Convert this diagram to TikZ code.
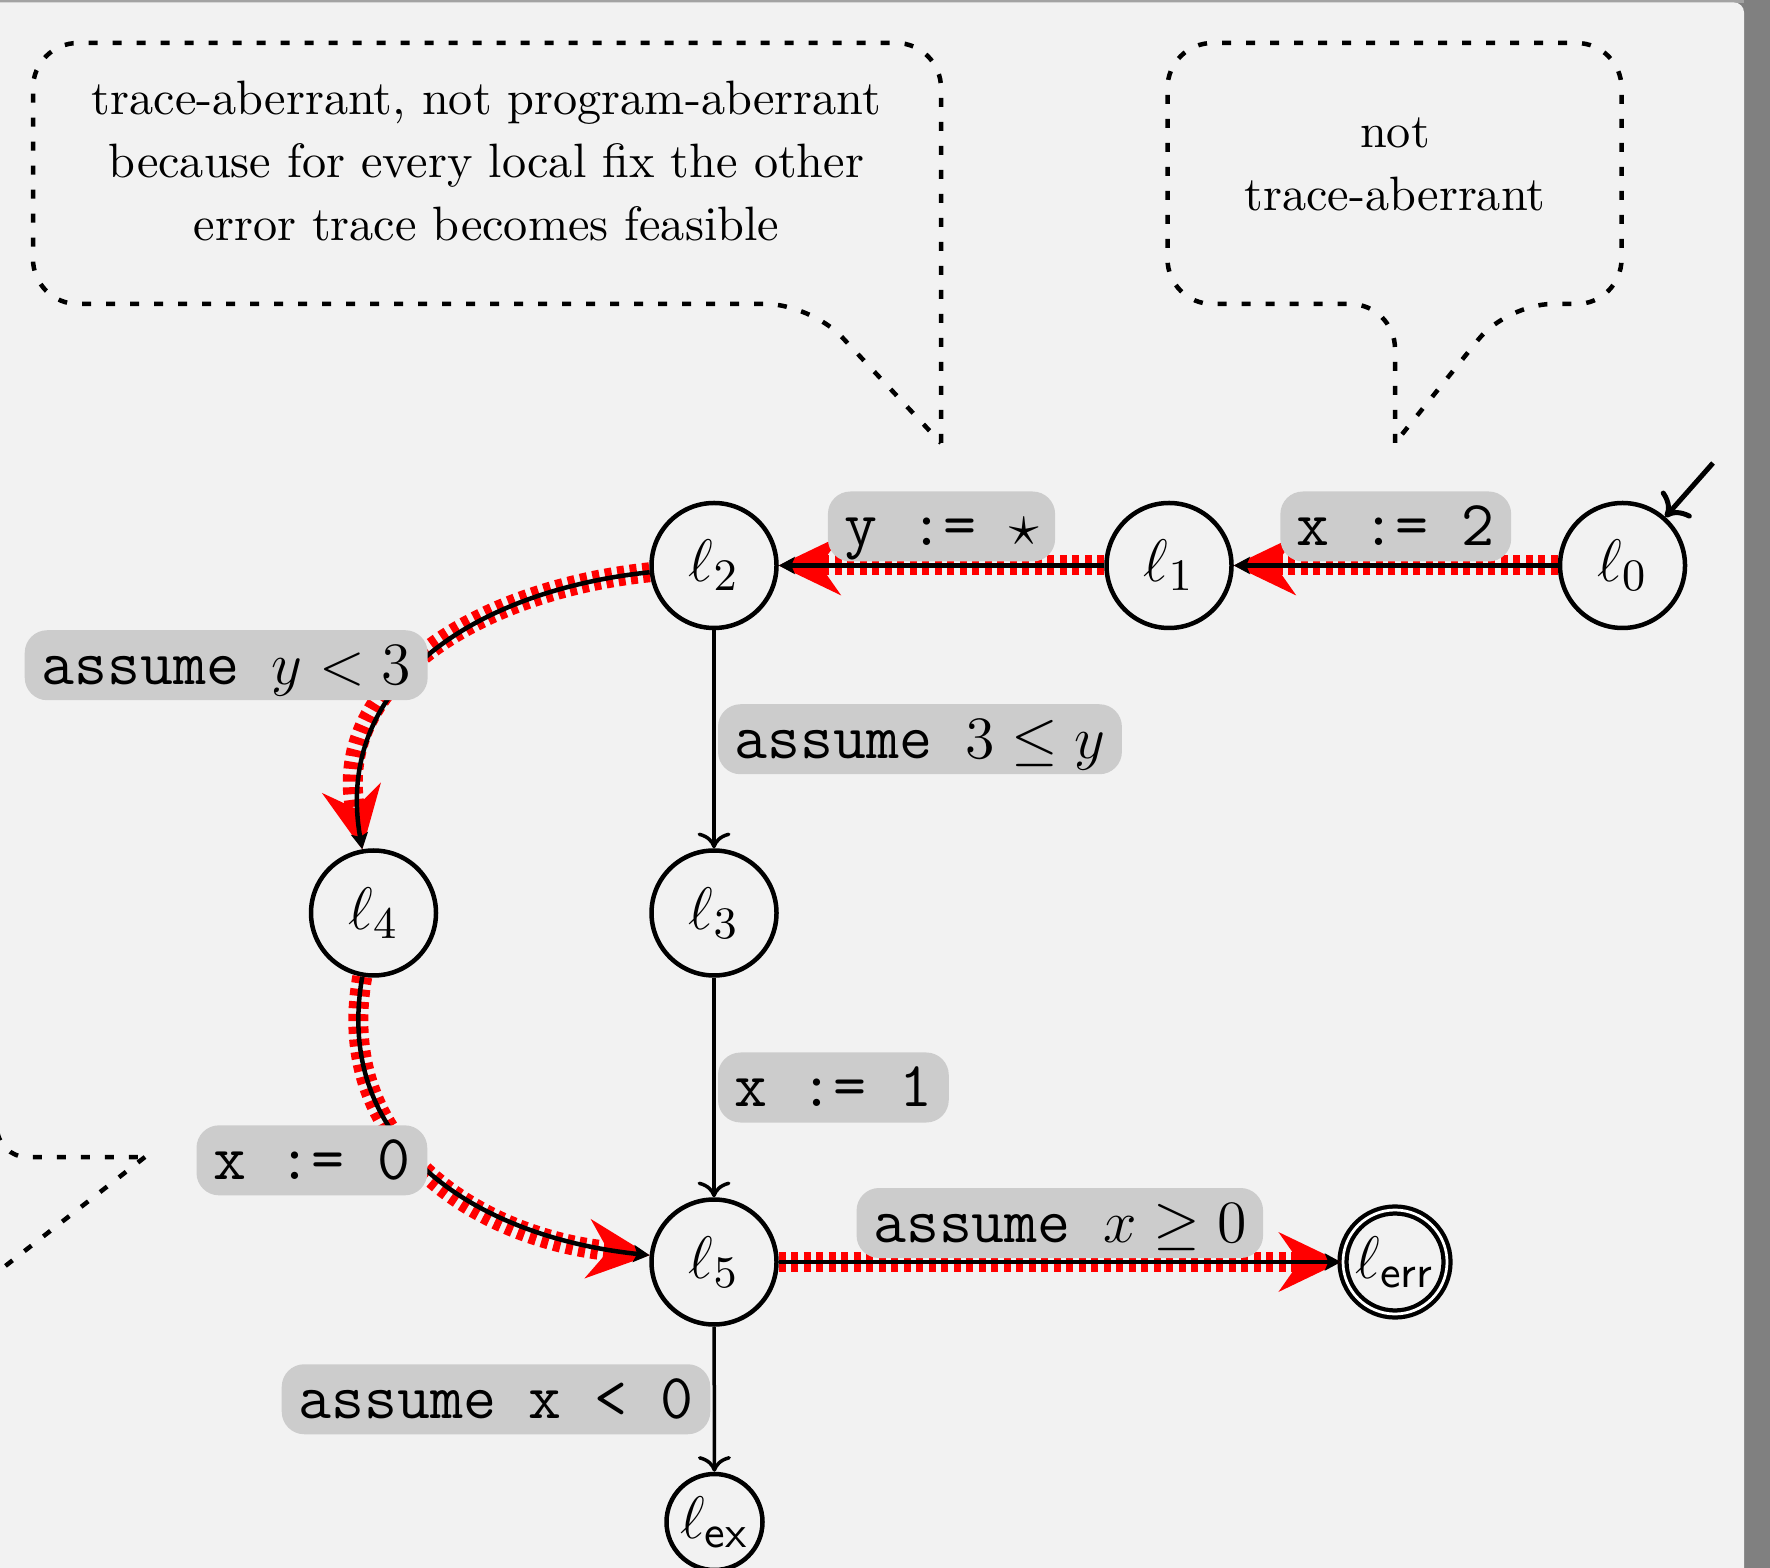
\documentclass[tikz,border=0pt]{standalone}
\usepackage{fontspec}
\usetikzlibrary{arrows.meta}
\definecolor{panel}{HTML}{F2F2F2}
\definecolor{labelgray}{HTML}{CCCCCC}
\definecolor{sidegray}{HTML}{808080}
\definecolor{rimgray}{HTML}{A3A3A3}
\begin{document}
\begin{tikzpicture}[x=0.2pt,y=0.2pt,
  loc/.style={circle, draw, line width=0.9pt, minimum size=25pt, inner sep=0pt,
    font=\fontsize{12.8}{15}\selectfont},
  errloc/.style={loc, double, line width=0.85pt, double distance=0.55pt, minimum size=20.8pt},
  locsmall/.style={loc, minimum size=19.2pt},
  edgelabel/.style={fill=labelgray, rounded corners=4.5pt, inner xsep=3.3pt, inner ysep=1.8pt,
    text height=9pt, text depth=1.4pt, outer sep=0pt,
    font=\fontsize{12.8}{15}\selectfont\ttfamily},
  redtrace/.style={draw=red, line width=4pt, dash pattern=on 1.4pt off 1.1pt,
    -{Stealth[length=12.5pt,width=12pt,inset=4.2pt,line width=0pt]}},
  tracestep/.style={line width=0.9pt, -{Stealth[length=3.2pt,width=3.4pt,inset=0.7pt]}},
  plainstep/.style={line width=0.7pt, ->},
  bubble/.style={line width=0.9pt, dash pattern=on 1.8pt off 3pt, rounded corners=9pt},
  bubbletext/.style={align=center, inner sep=0pt, font=\fontsize{9.65}{12.6}\selectfont}
]
% page, side strip and slide panel
\useasboundingbox (0,0) rectangle (1770,-1568);
\fill[sidegray] (0,0) rectangle (1770,-1568);
\fill[rimgray] (0,0) rectangle (1744,-3);
\fill[panel, rounded corners=2pt] (1744,-1600) -- (1744,-2.5) -- (-20,-2.5) -- (-20,-1600) -- cycle;

% locations
\node[loc] (l0) at (1622.5,-565.5) {$\ell_0$};
\node[loc] (l1) at (1169,-565.5) {$\ell_1$};
\node[loc] (l2) at (714,-565.5) {$\ell_2$};
\node[loc] (l3) at (714,-913) {$\ell_3$};
\node[loc] (l4) at (373.5,-913) {$\ell_4$};
\node[loc] (l5) at (714,-1262) {$\ell_5$};
\node[errloc] (lerr) at (1395,-1262) {$\ell_{\mathsf{err}}$};
\node[locsmall] (lex) at (714.5,-1522) {$\ell_{\mathsf{ex}}$};

% highlighted error trace
\draw[redtrace] (l0) -- (l1);
\draw[redtrace] (l1) -- (l2);
\draw[redtrace] (l2) to[out=186,in=100,looseness=1.1] (l4);
\draw[redtrace] (l4) to[out=260,in=174,looseness=1.1] (l5);
\draw[redtrace] (l5) -- (lerr);

% transitions
\coordinate (init) at (1713,-463);
\draw[line width=1pt, ->] (init) -- (l0);
\draw[tracestep] (l0) -- node[edgelabel, above=0.8pt] {x := 2} (l1);
\draw[tracestep] (l1) -- node[edgelabel, above=0.8pt] {y := $\star$} (l2);
\draw[plainstep] (l2) -- node[edgelabel, right=0.8pt] {assume $3\leq y$} (l3);
\draw[plainstep] (l3) -- node[edgelabel, right=0.8pt] {x := 1} (l5);
\draw[tracestep] (l2) to[out=186,in=100,looseness=1.1]
  node[edgelabel, pos=0.5, anchor=east, xshift=-0.65pt, yshift=-2.2pt] {assume $y<3$} (l4);
\draw[tracestep] (l4) to[out=260,in=174,looseness=1.1]
  node[edgelabel, pos=0.5, anchor=east, xshift=-0.65pt, yshift=2.5pt] {x := 0} (l5);
\draw[tracestep] (l5) -- node[edgelabel, above=0.8pt] {assume $x\geq 0$} (lerr);
\draw[plainstep] (l5) -- node[edgelabel, left=0.8pt] {assume x < 0} (lex);

% speech bubbles
\draw[bubble] (941,-443) -- (941,-43) -- (33,-43) -- (33,-304) -- (811,-304) -- (941,-443);
\node[bubbletext] (c1) at (486.5,-161)
  {trace-aberrant, not program-aberrant\\because for every local fix the other\\error trace becomes feasible};
\draw[bubble] (1395,-443) -- (1395,-304) -- (1167.5,-304) -- (1167.5,-43)
  -- (1621.5,-43) -- (1621.5,-304) -- (1507,-304) -- (1395,-443);
\node[bubbletext] (c2) at (1395,-164) {not\\trace-aberrant};
\draw[bubble, rounded corners=6pt] (-3,-1060) -- (-3,-1157) -- (145,-1157);
\draw[bubble] (145,-1157) -- (-60,-1317);
\end{tikzpicture}
\end{document}
